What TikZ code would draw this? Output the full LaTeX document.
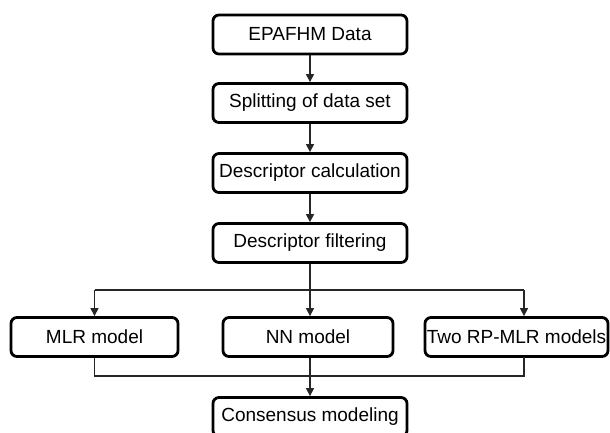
\documentclass[tikz,border=0pt]{standalone}
\usepackage{fontspec}
\setmainfont{Liberation Sans}
\usetikzlibrary{arrows.meta}
\begin{document}
\begin{tikzpicture}[x=1pt,y=-1pt,
  stage/.style={draw=black, line width=2.8pt, rounded corners=6pt, fill=white,
    minimum height=39pt, inner sep=0pt, font=\fontsize{19}{21}\selectfont},
  link/.style={line width=1.2pt, draw=black!85},
  flow/.style={link, -{Triangle[length=8pt,width=8pt]}}]
\clip (0,0) rectangle (610,432);
\fill[white] (0,0) rectangle (610,432);

% main column
\node[stage, minimum width=194pt] (data) at (310,34.5) {EPAFHM Data};
\node[stage, minimum width=194pt] (split) at (310,103) {Splitting of data set};
\node[stage, minimum width=194pt] (calc) at (310,173) {Descriptor calculation};
\node[stage, minimum width=194pt] (filt) at (310,243) {Descriptor filtering};

% model row
\node[stage, minimum width=167pt] (mlr) at (94.5,337) {MLR model};
\node[stage, minimum width=170pt] (nn) at (308,337) {NN model};
\node[stage, minimum width=183pt] (rp) at (516.5,337) {Two RP-MLR models};

\node[stage, minimum width=194pt] (cons) at (310,417) {Consensus modeling};

% bus points
\coordinate (top) at (310,290);
\coordinate (bot) at (310,376);
\coordinate (rptap) at (524,290);
\coordinate (rpout) at (524,357);

\draw[flow] (data) -- (split);
\draw[flow] (split) -- (calc);
\draw[flow] (calc) -- (filt);
\draw[flow] (filt.south) -- (filt.south |- nn.north);
\draw[link] (mlr.north |- top) -- (rptap);
\draw[flow] (mlr.north |- top) -- (mlr.north);
\draw[flow] (rptap) -- (rptap |- rp.north);
\draw[link] (mlr.south) -- (mlr.south |- bot) -- (rpout |- bot) -- (rpout);
\draw[link] (filt.south |- nn.south) -- (bot);
\draw[flow] (bot) -- (cons.north);
\end{tikzpicture}
\end{document}
